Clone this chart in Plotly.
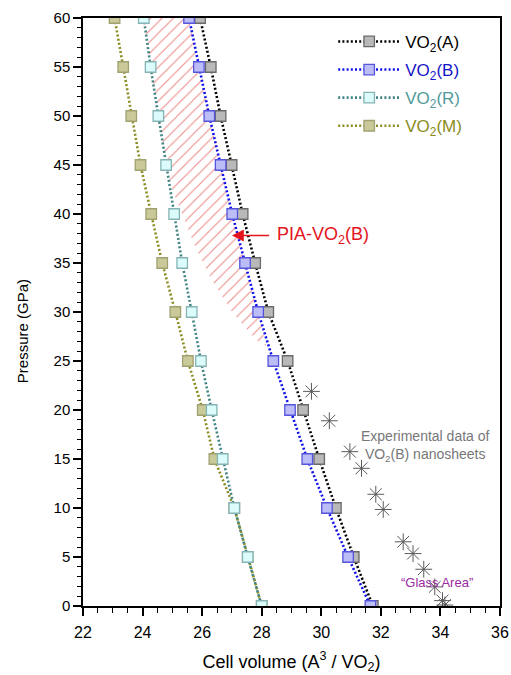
import plotly.graph_objects as go

pressure = [60, 55, 50, 45, 40, 35, 30, 25, 20, 15, 10, 5, 0]
vol_A = [25.93, 26.29, 26.62, 26.99, 27.36, 27.78, 28.22, 28.87, 29.39, 29.93, 30.49, 31.09, 31.73]
vol_B = [25.56, 25.89, 26.24, 26.62, 27.01, 27.44, 27.88, 28.39, 28.95, 29.53, 30.19, 30.90, 31.65]
vol_R = [24.04, 24.27, 24.53, 24.79, 25.06, 25.33, 25.65, 25.96, 26.32, 26.69, 27.08, 27.53, 28.00]
vol_M = [23.06, 23.35, 23.62, 23.93, 24.29, 24.66, 25.10, 25.52, 26.02, 26.41, 27.08, 27.53, 28.00]

exp_vol = [29.67, 30.27, 30.96, 31.35, 31.83, 32.08, 32.75, 33.08, 33.44, 33.81, 34.07, 34.15]
exp_p = [21.9, 18.9, 15.75, 14.05, 11.4, 9.85, 6.55, 5.35, 3.75, 1.95, 0.55, 0.1]

pia_vol = [25.56, 25.89, 26.24, 26.62, 27.01, 27.44, 27.88, 28.15,
           27.83, 27.03, 26.32, 25.76, 25.31, 24.93, 24.79, 24.53, 24.27, 24.04]
pia_p = [60, 55, 50, 45, 40, 35, 30, 26.5,
         27.1, 29.9, 33.3, 36.7, 40.1, 43, 45, 50, 55, 60]

FONT = "Liberation Sans, Arial, Helvetica, sans-serif"

fig = go.Figure()

# hatched PIA region
fig.add_trace(go.Scatter(
    x=pia_vol, y=pia_p, mode="lines", fill="toself",
    fillcolor="rgba(0,0,0,0)", line=dict(width=0, color="rgba(0,0,0,0)"),
    fillpattern=dict(shape="/", fgcolor="rgb(215,25,25)", bgcolor="rgba(0,0,0,0)",
                     size=8, solidity=0.14),
    showlegend=False, hoverinfo="skip"))

series = [
    ("A", vol_A, "black", "#b9b9b9", "#6a6a6a", "black", 1),
    ("B", vol_B, "#1010e8", "#bcbcf6", "#5555dd", "#1515c8", 2),
    ("M", vol_M, "#8c8c22", "#c9c99a", "#a0a070", "#8c8c22", 4),
    ("R", vol_R, "#3f8484", "#dcfcfc", "#86b4b4", "#4f9a9a", 3),
]
for name, vals, lc, mfill, mline, tcol, rank in series:
    fig.add_trace(go.Scatter(
        x=vals, y=pressure, mode="lines+markers",
        name=f"<span style='color:{tcol}'>VO<sub>2</sub>({name})</span>",
        line=dict(color=lc, width=2.6, dash="2px,2.2px"),
        marker=dict(symbol="square", size=10.5, color=mfill, line=dict(color=mline, width=1.3)),
        legendrank=rank, legendgroup=name))

fig.add_trace(go.Scatter(
    x=exp_vol, y=exp_p, mode="markers", showlegend=False,
    marker=dict(symbol="asterisk-open", size=14, color="#5a5a5a",
                line=dict(color="#5a5a5a", width=1))))

fig.add_annotation(x=27.0, y=37.8, ax=28.3, ay=37.8, xref="x", yref="y", axref="x", ayref="y",
                   text="", showarrow=True, arrowhead=2, arrowsize=1.7, arrowwidth=1.4,
                   arrowcolor="#e3141c")
fig.add_annotation(x=28.45, y=37.8, xref="x", yref="y", text="PIA-VO<sub>2</sub>(B)",
                   showarrow=False, xanchor="left", yanchor="middle",
                   font=dict(family=FONT, size=18, color="#e3141c"))
fig.add_annotation(x=33.5, y=16.3, xref="x", yref="y",
                   text="Experimental data of<br>VO<sub>2</sub>(B) nanosheets",
                   showarrow=False, xanchor="center", yanchor="middle",
                   font=dict(family=FONT, size=14, color="#777777"))
fig.add_annotation(x=33.9, y=2.4, xref="x", yref="y", text="“Glass Area”",
                   showarrow=False, xanchor="center", yanchor="middle",
                   font=dict(family=FONT, size=13, color="#9a2aa0"))
# y-axis title placed as rotated annotation
fig.add_annotation(x=-0.145, y=28.0, xref="paper", yref="y", text="Pressure (GPa)",
                   showarrow=False, textangle=-90, xanchor="center", yanchor="middle",
                   font=dict(family=FONT, size=15, color="black"))

fig.update_layout(
    width=511, height=675,
    margin=dict(l=83, r=11, t=18, b=69, autoexpand=False),
    plot_bgcolor="white", paper_bgcolor="white",
    font=dict(family=FONT, size=16, color="black"),
    legend=dict(x=0.60, y=0.99, xanchor="left", yanchor="top",
                font=dict(family=FONT, size=17), itemwidth=62,
                tracegroupgap=3, bgcolor="rgba(0,0,0,0)"),
    xaxis=dict(range=[22, 36], dtick=2, tick0=22, showgrid=False, zeroline=False,
               automargin=False,
               showline=True, linecolor="black", linewidth=1.5, mirror=True,
               ticks="outside", ticklen=8, tickwidth=1.5, tickcolor="black",
               ticklabelstandoff=3,
               minor=dict(dtick=0.5, ticks="outside", ticklen=5, tickwidth=1.2, tickcolor="black"),
               title=dict(text="Cell volume (A<sup>3</sup> / VO<sub>2</sub>)", font=dict(size=18), standoff=15),
               tickfont=dict(size=16)),
    yaxis=dict(range=[0, 60], dtick=5, showgrid=False, zeroline=False,
               automargin=False,
               showline=True, linecolor="black", linewidth=1.5, mirror=True,
               ticks="outside", ticklen=8, tickwidth=1.5, tickcolor="black",
               minor=dict(dtick=1, ticks="outside", ticklen=4, tickwidth=1, tickcolor="black"),
               tickfont=dict(size=15)),
)

fig.write_html("out.html", config={"displayModeBar": False},
               post_script="document.body.style.margin='0';")
